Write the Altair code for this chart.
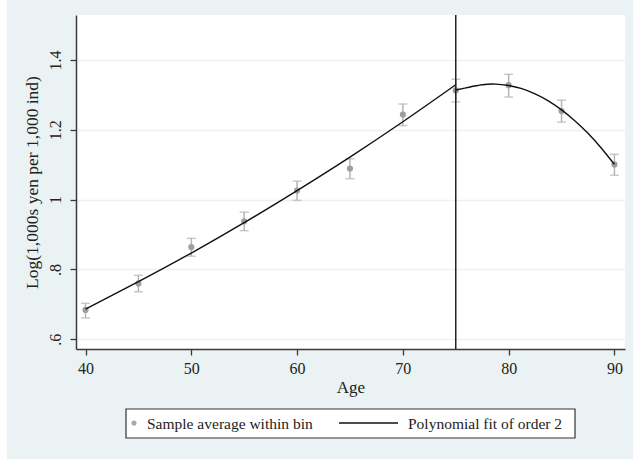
import altair as alt
import pandas as pd

# ---- data ----
ages = [40, 45, 50, 55, 60, 65, 70, 75, 80, 85, 90]
means = [0.684, 0.760, 0.864, 0.938, 1.026, 1.089, 1.244, 1.313, 1.328, 1.254, 1.101]
ci_hi = [0.703, 0.783, 0.889, 0.964, 1.053, 1.117, 1.274, 1.345, 1.359, 1.285, 1.130]
ci_lo = [0.661, 0.736, 0.838, 0.911, 0.998, 1.060, 1.212, 1.280, 1.294, 1.222, 1.070]

fit_left_age = [40, 45, 50, 55, 60, 65, 70, 75]
fit_left = [0.686, 0.765, 0.847, 0.934, 1.026, 1.122, 1.223, 1.329]
fit_right_age = [75, 76.25, 77.5, 78.75, 80, 81.25, 82.5, 83.75, 85, 86.25, 87.5, 88.75, 90]
fit_right = [1.314, 1.322, 1.329, 1.331, 1.327, 1.318, 1.303, 1.283, 1.257, 1.226, 1.190, 1.148, 1.101]

cutoff = [75]
x_ticks = [40, 50, 60, 70, 80, 90]
y_ticks = [0.6, 0.8, 1.0, 1.2, 1.4]
y_tick_labels = [".6", ".8", "1", "1.2", "1.4"]
legend_labels = ["Sample average within bin", "Polynomial fit of order 2"]

# ---- tables ----
pts = pd.DataFrame({"age": ages, "mean": means, "hi": ci_hi, "lo": ci_lo})
fit = pd.DataFrame({
    "age": fit_left_age + fit_right_age,
    "fit": fit_left + fit_right,
    "seg": ["left"] * len(fit_left_age) + ["right"] * len(fit_right_age),
})

FONT = "Liberation Serif"
BG = "#EAF2F3"
xscale = alt.Scale(domain=[39.1, 91.0], nice=False, zero=False)
yscale = alt.Scale(domain=[0.572, 1.529], nice=False, zero=False)

# label expression built from tick label list
expr = "'" + y_tick_labels[-1] + "'"
for v, lab in reversed(list(zip(y_ticks[:-1], y_tick_labels[:-1]))):
    expr = f"datum.value < {v + 0.1:.2f} ? '{lab}' : " + expr

xaxis = alt.Axis(values=x_ticks, title="Age", grid=False, tickSize=6, labelPadding=5,
                 titlePadding=3, labelFontSize=16, titleFontSize=17, labelFont=FONT,
                 titleFont=FONT, titleFontWeight="normal", labelColor="#222",
                 titleColor="#222", domainColor="#3a3a3a", tickColor="#3a3a3a",
                 domainWidth=1.5, tickWidth=1.3)
yaxis = alt.Axis(values=y_ticks, title="Log(1,000s yen per 1,000 ind)", grid=True,
                 gridColor=BG, gridWidth=1.5, tickSize=6, labelPadding=7,
                 labelAngle=270, labelAlign="center", labelBaseline="bottom",
                 labelExpr=expr, titlePadding=6, labelFontSize=16, titleFontSize=17.5,
                 labelFont=FONT, titleFont=FONT, titleFontWeight="normal",
                 labelColor="#222", titleColor="#222", domainColor="#3a3a3a",
                 tickColor="#3a3a3a", domainWidth=1.5, tickWidth=1.3)

base = alt.Chart(pts)
bars = base.mark_rule(color="#B4B4B4", strokeWidth=1.5).encode(
    x=alt.X("age:Q", scale=xscale, axis=xaxis),
    y=alt.Y("lo:Q", scale=yscale, axis=yaxis),
    y2="hi:Q",
)
cap_hi = base.mark_tick(color="#B4B4B4", orient="horizontal", size=9, thickness=1.5).encode(
    x="age:Q", y="hi:Q")
cap_lo = base.mark_tick(color="#B4B4B4", orient="horizontal", size=9, thickness=1.5).encode(
    x="age:Q", y="lo:Q")
dots = base.mark_point(filled=True, color="#9E9E9E", size=38, opacity=1).encode(
    x="age:Q", y="mean:Q")

lines = alt.Chart(fit).mark_line(color="#111", strokeWidth=1.4, interpolate="natural").encode(
    x="age:Q", y="fit:Q", detail="seg:N", order="age:Q")

vline = alt.Chart(pd.DataFrame({"age": cutoff})).mark_rule(color="#222", strokeWidth=1.5).encode(
    x="age:Q")

# ---- legend (drawn below the plot) ----
one = pd.DataFrame({"k": [0]})
lg_box = alt.Chart(one).mark_rect(fill="white", stroke="#333", strokeWidth=1.2).encode(
    x=alt.value(50), x2=alt.value(499), y=alt.value(394), y2=alt.value(423))
lg_dot = alt.Chart(one).mark_point(filled=True, color="#A8A8A8", size=26, opacity=1).encode(
    x=alt.value(58), y=alt.value(408))
lg_t1 = alt.Chart(pd.DataFrame({"label": [legend_labels[0]]})).mark_text(
    align="left", baseline="middle", font=FONT, fontSize=15.5, color="#222").encode(
    text="label:N", x=alt.value(71), y=alt.value(409))
lg_line = alt.Chart(one).mark_rule(color="#111", strokeWidth=1.4).encode(
    x=alt.value(263), x2=alt.value(322), y=alt.value(408))
lg_t2 = alt.Chart(pd.DataFrame({"label": [legend_labels[1]]})).mark_text(
    align="left", baseline="middle", font=FONT, fontSize=15.5, color="#222").encode(
    text="label:N", x=alt.value(332), y=alt.value(409))
white_strip = alt.Chart(one).mark_rect(fill="white").encode(
    x=alt.value(-76), x2=alt.value(-69), y=alt.value(-15), y2=alt.value(444))

chart = alt.layer(
    white_strip, bars, cap_hi, cap_lo, dots, lines, vline,
    lg_box, lg_dot, lg_t1, lg_line, lg_t2,
).properties(
    width=549, height=334,
    background=BG,
    padding={"left": 76, "top": 15, "right": 8, "bottom": 110},
    autosize=alt.AutoSizeParams(type="none"),
).configure_view(fill="white", strokeWidth=0)

chart.save("out.html", embed_options={"renderer": "svg", "actions": False})
